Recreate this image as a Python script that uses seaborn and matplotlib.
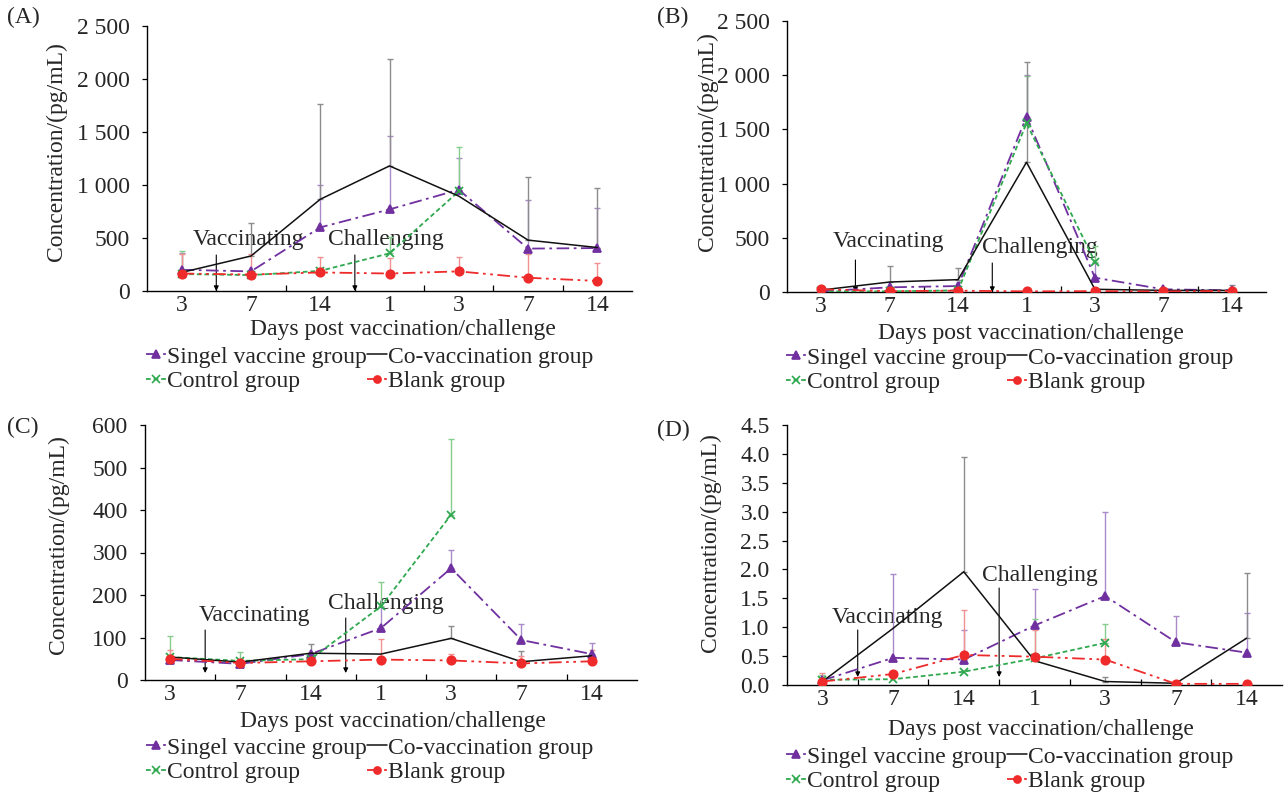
import numpy as np
import pandas as pd
import matplotlib
matplotlib.use("Agg")
import matplotlib.pyplot as plt
import seaborn as sns
from matplotlib.lines import Line2D
from matplotlib.ticker import FixedLocator, FuncFormatter

nan = np.nan

# ---------------- data ----------------
days = ["3", "7", "14", "1", "3", "7", "14"]
groups = ["Singel vaccine group", "Control group", "Co-vaccination group", "Blank group"]

# Panel A
single_A = [200, 185, 600, 770, 955, 400, 405]
control_A = [160, 150, 190, 355, 940, nan, nan]
co_A = [175, 330, 865, 1180, 895, 480, 410]
blank_A = [165, 155, 175, 165, 185, 125, 95]
single_A_err = [160, 0, 400, 690, 300, 455, 375]
control_A_err = [215, 0, 30, 157, 420, nan, nan]
co_A_err = [0, 308, 900, 1005, 0, 595, 565]
blank_A_err = [180, 190, 143, 143, 133, 224, 166]

# Panel B
single_B = [6, 43, 55, 1618, 132, 25, 15]
control_B = [6, 6, 15, 1557, 280, nan, nan]
co_B = [18, 92, 114, 1197, 25, 15, 15]
blank_B = [25, 8, 12, 6, 8, 5, 10]
single_B_err = [0, 0, 0, 380, 140, 0, 0]
control_B_err = [0, 0, 0, 440, 140, nan, nan]
co_B_err = [0, 145, 108, 926, 0, 0, 47]
blank_B_err = [20, 0, 0, 0, 0, 0, 0]

# Panel C
single_C = [47, 38, 61, 122, 263, 94, 61]
control_C = [54, 45, 49, 173, 389, nan, nan]
co_C = [54, 42, 63, 61, 98, 43, 57]
blank_C = [50, 40, 44, 48, 46, 39, 44]
single_C_err = [0, 0, 0, 50, 43, 37, 27]
control_C_err = [50, 20, 0, 57, 178, nan, nan]
co_C_err = [0, 0, 21, 0, 30, 26, 0]
blank_C_err = [20, 0, 0, 48, 16, 18, 26]

# Panel D
single_D = [0.08, 0.47, 0.44, 1.03, 1.54, 0.74, 0.56]
control_D = [0.09, 0.10, 0.23, 0.46, 0.73, nan, nan]
co_D = [0.06, 0.98, 1.96, 0.42, 0.06, 0.03, 0.81]
blank_D = [0.06, 0.19, 0.52, 0.49, 0.44, 0.02, 0.02]
single_D_err = [0, 1.45, 0.51, 0.64, 1.45, 0.46, 0.68]
control_D_err = [0.09, 0, 0, 0.68, 0.32, nan, nan]
co_D_err = [0, 0, 1.98, 0, 0.08, 0, 1.13]
blank_D_err = [0.15, 0, 0.77, 0.46, 0.35, 0, 0]

# ---------------- styles ----------------
sns.set_theme(style="ticks")
plt.rcParams["font.family"] = ["Liberation Serif", "DejaVu Serif"]
FS = 17

STY = {
    "Singel vaccine group": dict(color="#7030A0", ecolor="#A98BC9", marker="^",
                                 ls=(0, (7, 2.5, 1.5, 2.5)), lw=1.3, ms=6),
    "Control group": dict(color="#2FA84F", ecolor="#86CC8E", marker="x",
                          ls=(0, (2.6, 1.6)), lw=1.3, ms=6),
    "Co-vaccination group": dict(color="#111111", ecolor="#8C8C8C", marker=None,
                                 ls="-", lw=1.1, ms=0),
    "Blank group": dict(color="#EE2A2A", ecolor="#F29090", marker="o",
                        ls=(0, (7, 2.5, 1.5, 2.5, 1.5, 2.5)), lw=1.3, ms=6),
}

W, H = 1285, 795
fig = plt.figure(figsize=(W / 100, H / 100), dpi=100)


def ax_at(l, t, r, b):
    return fig.add_axes([l / W, 1 - b / H, (r - l) / W, (b - t) / H])


def thousands(v, pos):
    return f"{int(round(v)):,}".replace(",", " ")


panels = [
    dict(name="(A)", box=(147, 26, 632, 291), xlim=(-0.5, 6.5),
         data=[single_A, control_A, co_A, blank_A],
         errs=[single_A_err, control_A_err, co_A_err, blank_A_err],
         yticks=np.arange(0, 2501, 500), fmt=thousands,
         label_xy=(7, 17), ylab_xy=(56, 152), xlab_xy=(403, 330),
         vacc=((248, 240), (255, 291)), chal=((386, 240), (255, 291)),
         leg=(146, 346)),
    dict(name="(B)", box=(787, 21, 1266, 292), xlim=(-0.5, 6.5),
         data=[single_B, control_B, co_B, blank_B],
         errs=[single_B_err, control_B_err, co_B_err, blank_B_err],
         yticks=np.arange(0, 2501, 500), fmt=thousands,
         label_xy=(657, 17), ylab_xy=(707, 142), xlab_xy=(1031, 333),
         vacc=((888, 242), (260, 292)), chal=((1040, 247), (263, 292)),
         leg=(786, 347)),
    dict(name="(C)", box=(145, 425, 637, 680), xlim=(-0.356, 6.644),
         data=[single_C, control_C, co_C, blank_C],
         errs=[single_C_err, control_C_err, co_C_err, blank_C_err],
         yticks=np.arange(0, 601, 100), fmt=lambda v, p: f"{int(round(v))}",
         label_xy=(7, 427), ylab_xy=(58, 545), xlab_xy=(393, 722),
         vacc=((254, 616), (630, 673)), chal=((386, 604), (618, 673)),
         leg=(146, 737)),
    dict(name="(D)", box=(787, 425, 1282, 685), xlim=(-0.5, 6.5),
         data=[single_D, control_D, co_D, blank_D],
         errs=[single_D_err, control_D_err, co_D_err, blank_D_err],
         yticks=np.arange(0, 4.51, 0.5), fmt=lambda v, p: f"{v:.1f}",
         label_xy=(657, 430), ylab_xy=(710, 543), xlab_xy=(1041, 729),
         vacc=((887, 617), (630, 677)), chal=((1040, 576), (588, 677)),
         leg=(786, 746)),
]

pos = np.arange(len(days))

for P in panels:
    ax = ax_at(*P["box"])
    for g, vals, err in zip(groups, P["data"], P["errs"]):
        s = STY[g]
        df = pd.DataFrame({"pos": pos, "value": vals, "err": err}).dropna()
        e = df["err"].to_numpy()
        keep = e > 0
        if keep.any():
            ax.errorbar(df["pos"][keep], df["value"][keep],
                        yerr=[np.zeros(keep.sum()), e[keep]], fmt="none",
                        ecolor=s["ecolor"], elinewidth=1.0, capsize=2,
                        capthick=1.0, zorder=2)
        sns.lineplot(data=df, x="pos", y="value", ax=ax, color=s["color"],
                     linestyle=s["ls"], linewidth=s["lw"], marker=s["marker"],
                     markersize=s["ms"], markeredgecolor=s["color"],
                     markeredgewidth=1.3, legend=False, zorder=3)

    ax.set_xlim(*P["xlim"])
    ax.set_ylim(P["yticks"][0], P["yticks"][-1])
    ax.set_xticks(pos)
    ax.set_xticklabels(days)
    lo = P["xlim"][0]
    ax.xaxis.set_minor_locator(FixedLocator([lo + k for k in range(1, 7)]))
    ax.tick_params(axis="x", which="major", length=0, pad=3, labelsize=FS)
    ax.tick_params(axis="x", which="minor", direction="in", length=4, width=0.9,
                   color="black")
    ax.set_yticks(P["yticks"])
    ax.yaxis.set_major_formatter(FuncFormatter(P["fmt"]))
    ax.tick_params(axis="y", which="major", direction="out", length=3.5,
                   width=0.9, pad=9, labelsize=FS, color="black")
    ax.set_xlabel("")
    ax.set_ylabel("")
    for sp in ["top", "right"]:
        ax.spines[sp].set_visible(False)
    for sp in ["left", "bottom"]:
        ax.spines[sp].set_color("black")
        ax.spines[sp].set_linewidth(1.0)
    ax.set_facecolor("white")

    # annotations
    for txt, key, xd in [("Vaccinating", "vacc", 0.5), ("Challenging", "chal", 2.5)]:
        (tx, ty), (y0, y1) = P[key]
        ax.text(tx / W, 1 - ty / H, txt, transform=fig.transFigure, ha="center",
                va="center", fontsize=FS, zorder=1, clip_on=False)
        ax.annotate("", xy=(xd, H - y1), xycoords=("data", "figure pixels"),
                    xytext=(xd, H - y0), textcoords=("data", "figure pixels"),
                    arrowprops=dict(arrowstyle="-|>", lw=0.8, color="black",
                                    mutation_scale=7, shrinkA=0, shrinkB=0),
                    zorder=1, annotation_clip=False)

    lx, ly = P["label_xy"]
    fig.text(lx / W, 1 - ly / H, P["name"], ha="left", va="center", fontsize=FS)
    yx, yy = P["ylab_xy"]
    fig.text(yx / W, 1 - yy / H, "Concentration/(pg/mL)", rotation=90,
             ha="center", va="center", fontsize=FS)
    xx, xy = P["xlab_xy"]
    fig.text(xx / W, 1 - xy / H, "Days post vaccination/challenge", ha="center",
             va="center", fontsize=FS)

    handles = []
    for g in groups:
        s = STY[g]
        handles.append(Line2D([], [], color=s["color"], linestyle=s["ls"],
                              linewidth=s["lw"], marker=s["marker"],
                              markersize=s["ms"] * 0.85,
                              markeredgecolor=s["color"], markeredgewidth=1.2))
    lgx, lgy = P["leg"]
    ax.legend(handles, groups, ncol=2, loc="upper left",
              bbox_to_anchor=(lgx / W, 1 - lgy / H), bbox_transform=fig.transFigure,
              frameon=False, fontsize=FS, handlelength=0.85, handletextpad=0.05,
              columnspacing=0.0, labelspacing=0.12, borderpad=0, borderaxespad=0,
              markerscale=1.0)

fig.savefig("out.png", dpi=100, facecolor="white")
